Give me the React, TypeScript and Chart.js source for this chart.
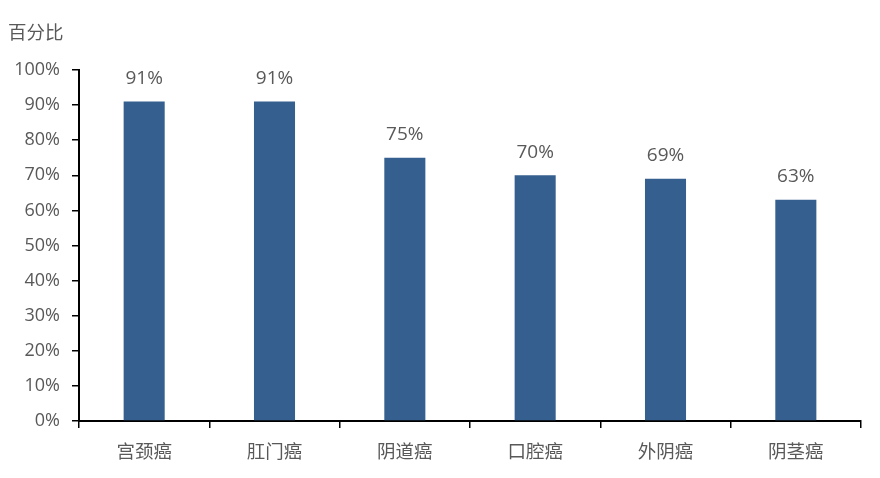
import React, { useEffect, useRef } from "react";
import { Chart, registerables } from "chart.js";

Chart.register(...registerables);

const categories = ["宫颈癌", "肛门癌", "阴道癌", "口腔癌", "外阴癌", "阴茎癌"];
const values = [91, 91, 75, 70, 69, 63];
const yTitle = "百分比";

const labelFont = "'Open Sans', 'Noto Sans CJK SC', sans-serif";
const cjkFont = "'Noto Sans CJK SC', sans-serif";

export default function App() {
  const ref = useRef<HTMLCanvasElement | null>(null);
  useEffect(() => {
    document.body.style.margin = "0";
    const canvas = ref.current;
    if (!canvas) return;
    const valueLabels = {
      id: "valueLabels",
      afterDatasetsDraw(chart: any) {
        const ctx = chart.ctx;
        const meta = chart.getDatasetMeta(0);
        ctx.save();
        ctx.fillStyle = "#595959";
        ctx.font = `19px ${labelFont}`;
        ctx.textAlign = "center";
        ctx.textBaseline = "middle";
        meta.data.forEach((bar: any, i: number) => {
          ctx.fillText(values[i] + "%", bar.x, bar.y - 23);
        });
        ctx.font = `18.5px ${cjkFont}`;
        ctx.textAlign = "left";
        ctx.fillText(yTitle, 8, 32);
        ctx.restore();
      },
    };
    const chart = new Chart(canvas, {
      type: "bar",
      data: {
        labels: categories,
        datasets: [
          {
            data: values,
            backgroundColor: "#355F8F",
            categoryPercentage: 1,
            barPercentage: 0.315,
          },
        ],
      },
      options: {
        responsive: false,
        animation: false,
        layout: { padding: { top: 70, right: 19, left: 0, bottom: 0 } },
        plugins: { legend: { display: false }, tooltip: { enabled: false }, title: { display: false } },
        scales: {
          x: {
            offset: true,
            grid: {
              offset: true,
              drawOnChartArea: false,
              drawTicks: true,
              tickLength: 7,
              color: "#000000",
              lineWidth: 1.5,
            },
            border: { display: true, color: "#000000", width: 2 },
            ticks: {
              color: "#595959",
              font: { size: 18.5, family: cjkFont },
              padding: 12,
              maxRotation: 0,
            },
            afterFit(scale: any) {
              scale.height = 57;
            },
          },
          y: {
            min: 0,
            max: 100,
            grid: {
              drawOnChartArea: false,
              drawTicks: true,
              tickLength: 7,
              color: "#000000",
              lineWidth: 1.5,
            },
            border: { display: true, color: "#000000", width: 2 },
            ticks: {
              stepSize: 10,
              color: "#595959",
              font: { size: 18, family: labelFont },
              padding: 12,
              callback: (v: any) => v + "%",
            },
            afterFit(scale: any) {
              scale.width = 79;
            },
          },
        },
      },
      plugins: [valueLabels],
    });
    return () => chart.destroy();
  }, []);
  return <canvas ref={ref} width={880} height={478} style={{ display: "block" }} />;
}
